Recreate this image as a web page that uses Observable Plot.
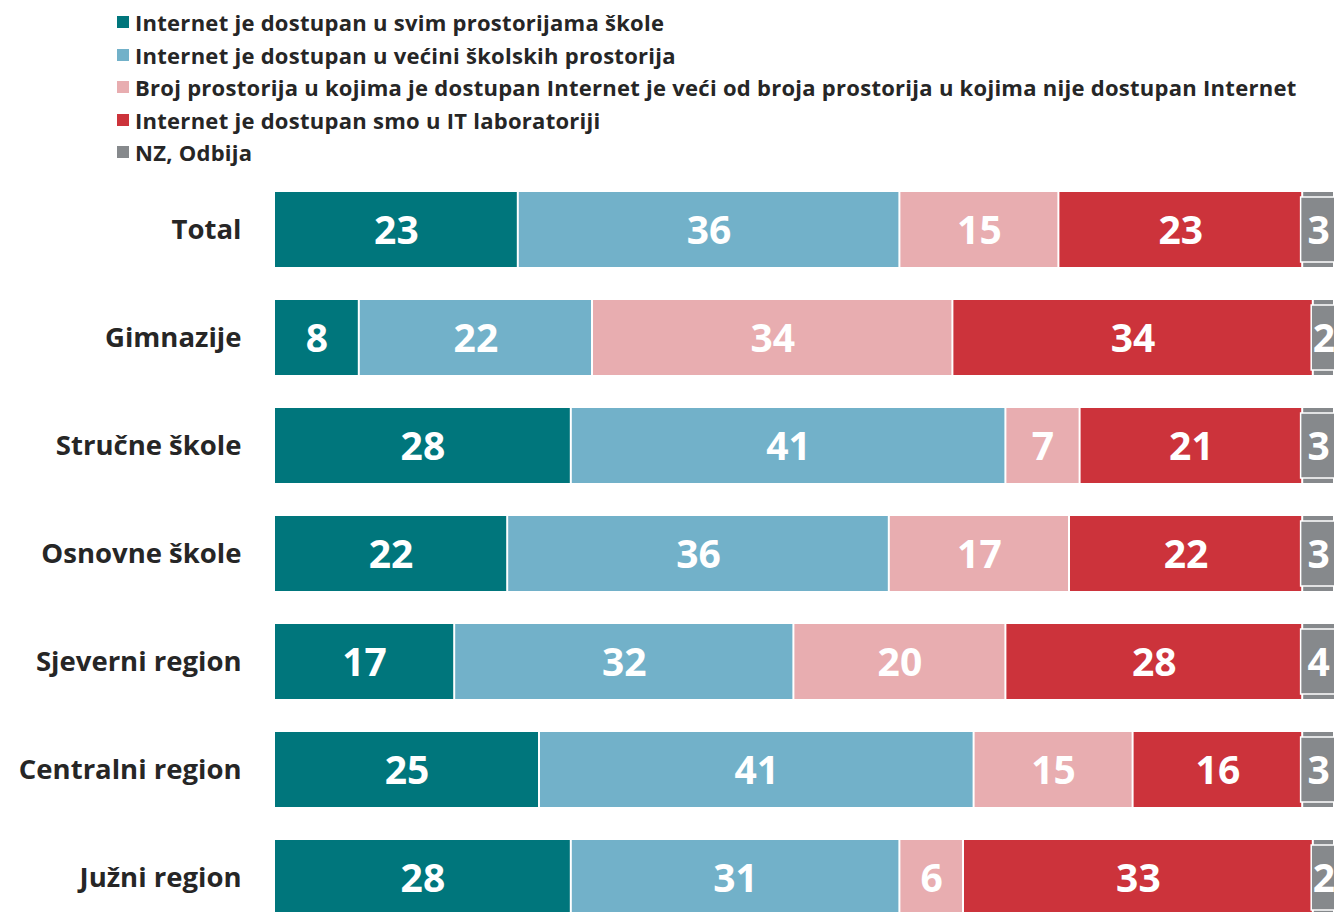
<!DOCTYPE html>
<html>
<head>
<meta charset="utf-8">
<script src="https://cdn.jsdelivr.net/npm/d3@7"></script>
<script src="https://cdn.jsdelivr.net/npm/@observablehq/plot@0.6"></script>
<style>
  html, body { margin: 0; padding: 0; background: #fff; overflow: hidden; width: 1334px; height: 912px; }
  #legend { position: absolute; left: 117px; top: 6px; font-family: "Open Sans", sans-serif; font-weight: 700; font-size: 22px; letter-spacing: 0.27px; color: #262626; }
  .row { height: 32.5px; display: flex; align-items: center; white-space: nowrap; }
  .sw { width: 12px; height: 12px; margin-right: 6px; flex: none; }
  #chart { position: absolute; left: 0; top: 172px; }
</style>
</head>
<body>
<div id="legend"></div>
<div id="chart"></div>
<script>
const categories = ["Total", "Gimnazije", "Stručne škole", "Osnovne škole", "Sjeverni region", "Centralni region", "Južni region"];
const seriesNames = [
  "Internet je dostupan u svim prostorijama škole",
  "Internet je dostupan u većini školskih prostorija",
  "Broj prostorija u kojima je dostupan Internet je veći od broja prostorija u kojima nije dostupan Internet",
  "Internet je dostupan smo u IT laboratoriji",
  "NZ, Odbija"
];
const colors = ["#00767c", "#72b1c9", "#e8adb0", "#cc333b", "#86898c"];
const svimProstorijama = [23, 8, 28, 22, 17, 25, 28];
const vecini = [36, 22, 41, 36, 32, 41, 31];
const brojVeci = [15, 34, 7, 17, 20, 15, 6];
const samoIT = [23, 34, 21, 22, 28, 16, 33];
const nzOdbija = [3, 2, 3, 3, 4, 3, 2];
const seriesValues = [svimProstorijama, vecini, brojVeci, samoIT, nzOdbija];

// legend
const legend = document.getElementById("legend");
seriesNames.forEach((s, i) => {
  const r = document.createElement("div"); r.className = "row";
  const sw = document.createElement("span"); sw.className = "sw"; sw.style.background = colors[i];
  const t = document.createElement("span"); t.textContent = s;
  r.appendChild(sw); r.appendChild(t); legend.appendChild(r);
});

// table
const rows = [];
categories.forEach((c, ci) => {
  let acc = 0;
  seriesValues.forEach((vals, si) => {
    const v = vals[ci];
    rows.push({cat: c, series: seriesNames[si], si, value: v, x1: acc, x2: acc + v});
    acc += v;
  });
});
const grayRows = rows.filter(d => d.si === 4);

const chart = Plot.plot({
  width: 1334,
  height: 745,
  marginLeft: 274,
  marginRight: 0,
  marginTop: 18,
  marginBottom: 0,
  style: {fontFamily: "Open Sans, sans-serif", background: "transparent", overflow: "hidden"},
  x: {domain: [0, 100], axis: null},
  y: {domain: categories, paddingInner: 0.307, paddingOuter: 0, label: null},
  color: {domain: seriesNames, range: colors},
  marks: [
    Plot.barX(rows, {x1: "x1", x2: "x2", y: "cat", fill: "series", insetLeft: 1, insetRight: 1}),
    Plot.barX(grayRows, {x1: d => d.x1 - 0.15, x2: d => d.x2 + 1, y: "cat", fill: "#86898c", insetTop: 5, insetBottom: 5, stroke: "white", strokeWidth: 1.5}),
    Plot.text(rows, {x: d => (d.x1 + Math.min(d.x2, 100)) / 2, y: "cat", text: d => String(d.value), fill: "white", fontSize: 39, fontWeight: 700, dy: 2}),
    Plot.axisY({tickSize: 0, tickPadding: 33, fontSize: 27.5, fontWeight: 700, fill: "#262626", label: null})
  ]
});
document.getElementById("chart").appendChild(chart);
</script>
</body>
</html>
